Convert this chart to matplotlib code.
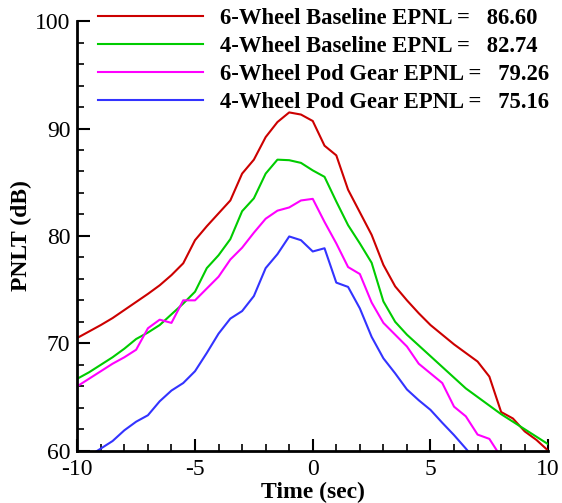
import matplotlib
matplotlib.use("Agg")
import matplotlib.pyplot as plt
import numpy as np

plt.rcParams['font.family'] = ['Liberation Serif', 'DejaVu Serif']
plt.rcParams['axes.unicode_minus'] = False

time = np.arange(-10, 10.01, 0.5)

red_6w_base = [70.5, 71.1, 71.7, 72.35, 73.1, 73.85, 74.6, 75.4, 76.35, 77.45,
               79.6, 80.9, 82.1, 83.3, 85.8, 87.1, 89.2, 90.6, 91.5, 91.3,
               90.7, 88.4, 87.5, 84.3, 82.2, 80.1, 77.3, 75.3, 74.0, 72.8,
               71.7, 70.8, 69.9, 69.1, 68.3, 66.9, 63.6, 63.0, 61.8, 61.0, 60.0]
green_4w_base = [66.7, 67.3, 68.0, 68.7, 69.5, 70.4, 71.0, 71.7, 72.7, 73.7,
                 74.8, 77.0, 78.2, 79.7, 82.3, 83.5, 85.8, 87.1, 87.05, 86.8,
                 86.1, 85.5, 83.2, 81.0, 79.3, 77.5, 73.9, 72.0, 70.8, 69.8,
                 68.8, 67.8, 66.8, 65.8, 65.0, 64.2, 63.4, 62.7, 62.0, 61.3, 60.6]
mag_6w_pod = [66.0, 66.7, 67.4, 68.1, 68.7, 69.4, 71.4, 72.2, 71.9, 74.0,
              74.0, 75.1, 76.2, 77.8, 78.9, 80.3, 81.6, 82.35, 82.65, 83.3,
              83.45, 81.3, 79.3, 77.1, 76.45, 73.8, 71.9, 70.8, 69.7, 68.1,
              67.2, 66.3, 64.1, 63.2, 61.5, 61.1, 59.4]
blue_4w_pod = [58.8, 59.5, 60.2, 60.9, 61.9, 62.7, 63.3, 64.6, 65.6, 66.3,
               67.4, 69.1, 70.9, 72.3, 73.0, 74.4, 77.0, 78.3, 79.95, 79.6,
               78.55, 78.85, 75.65, 75.25, 73.25, 70.6, 68.6, 67.2, 65.7, 64.7,
               63.8, 62.6, 61.45, 60.2, 58.9]

labels = ["6-Wheel Baseline EPNL =   86.60",
          "4-Wheel Baseline EPNL =   82.74",
          "6-Wheel Pod Gear EPNL =   79.26",
          "4-Wheel Pod Gear EPNL =   75.16"]
colors = ['#cc0000', '#00cc00', '#ff00ff', '#3333ff']
series = [red_6w_base, green_4w_base, mag_6w_pod, blue_4w_pod]

fig = plt.figure(figsize=(5.62, 5.03), dpi=100)
ax = fig.add_axes([0.1375, 0.104, 0.838, 0.854])

for vals, c, lab in zip(series, colors, labels):
    ax.plot(time[:len(vals)], vals, color=c, lw=1.5, label=lab)

ax.set_xlim(-10, 10)
ax.set_ylim(60, 100)
ax.set_xticks([-10, -5, 0, 5, 10])
ax.set_xticks(np.arange(-10, 10.1, 1), minor=True)
ax.set_yticks([60, 70, 80, 90, 100])
ax.set_yticks(np.arange(60, 100.1, 2), minor=True)
for s in ['top', 'right']:
    ax.spines[s].set_visible(False)
for s in ['left', 'bottom']:
    ax.spines[s].set_linewidth(2)
ax.tick_params(which='major', direction='in', length=9, width=1.5, labelsize=17)
ax.tick_params(axis='y', which='major', pad=5)
ax.tick_params(axis='x', which='major', pad=6)
ax.tick_params(which='minor', direction='in', length=5, width=1.2)
ax.set_xlabel('Time (sec)', fontsize=17, fontweight='bold', labelpad=1)
ax.set_ylabel('PNLT (dB)', fontsize=17, fontweight='bold', labelpad=2)

leg = ax.legend(loc='upper left', bbox_to_anchor=(0.045, 1.03), frameon=False,
                prop={'family': 'Liberation Serif', 'weight': 'bold', 'size': 16.3},
                handlelength=4.6, handletextpad=0.75, labelspacing=0.305,
                borderaxespad=0, borderpad=0)

fig.savefig('out.png', dpi=100)
